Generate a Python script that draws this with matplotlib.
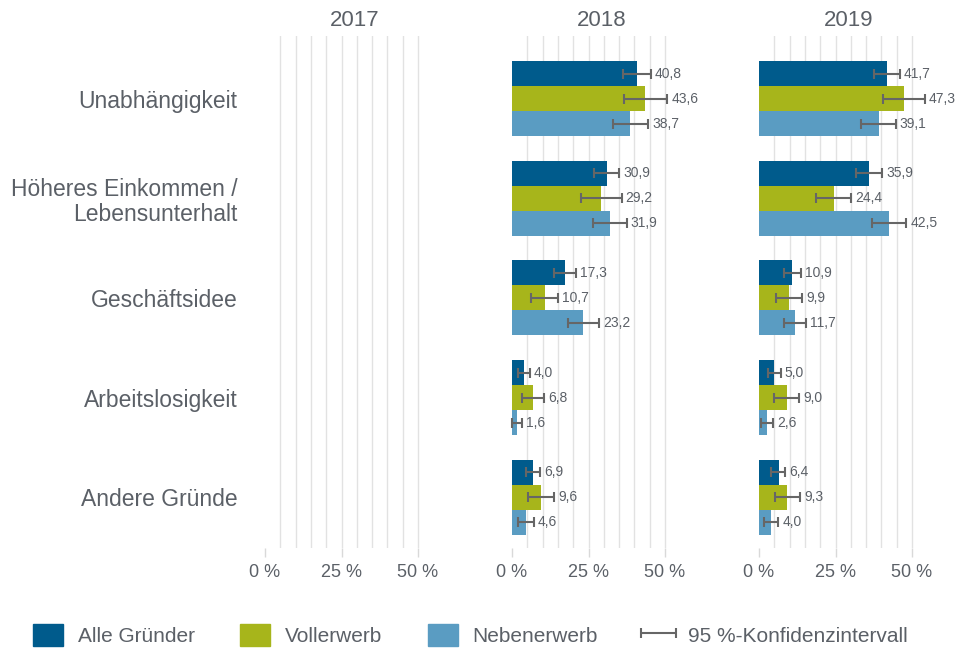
import numpy as np
import matplotlib
matplotlib.use("Agg")
import matplotlib.pyplot as plt
from matplotlib.patches import Patch
from matplotlib.container import ErrorbarContainer
from matplotlib.legend_handler import HandlerErrorbar

plt.rcParams['font.family'] = ['Liberation Sans', 'DejaVu Sans']

GREY = '#5b6067'
COLORS = ['#005b8c', '#a7b51b', '#5a9cc2']
SERIES = ['Alle Gründer', 'Vollerwerb', 'Nebenerwerb']
YEARS = ['2017', '2018', '2019']
CATEGORIES = ['Unabhängigkeit', 'Höheres Einkommen /\nLebensunterhalt', 'Geschäftsidee',
              'Arbeitslosigkeit', 'Andere Gründe']

# values per year: rows = categories, cols = series (Alle, Voll, Neben); 2017 has no data
values_2018 = [[40.8, 43.6, 38.7], [30.9, 29.2, 31.9], [17.3, 10.7, 23.2], [4.0, 6.8, 1.6], [6.9, 9.6, 4.6]]
lower_2018 = [[36.4, 36.6, 32.9], [26.8, 22.5, 26.4], [13.8, 6.2, 18.2], [2.1, 3.2, 0.0], [4.6, 5.3, 2.1]]
upper_2018 = [[45.3, 50.8, 44.6], [35.0, 35.8, 37.5], [20.8, 15.1, 28.4], [5.8, 10.6, 3.2], [9.3, 13.8, 7.1]]

values_2019 = [[41.7, 47.3, 39.1], [35.9, 24.4, 42.5], [10.9, 9.9, 11.7], [5.0, 9.0, 2.6], [6.4, 9.3, 4.0]]
lower_2019 = [[37.5, 40.5, 33.4], [31.7, 18.5, 36.9], [8.2, 5.7, 8.1], [2.8, 4.9, 0.5], [4.0, 5.1, 1.5]]
upper_2019 = [[46.0, 54.2, 44.7], [40.2, 30.2, 48.1], [13.6, 14.1, 15.4], [7.1, 13.1, 4.6], [8.6, 13.4, 6.3]]

DATA = {'2017': None,
        '2018': (values_2018, lower_2018, upper_2018),
        '2019': (values_2019, lower_2019, upper_2019)}

W, H = 957, 651
fig = plt.figure(figsize=(W / 100, H / 100), dpi=100)

bar_h = 0.251
offsets = [-bar_h, 0, bar_h]
y = np.arange(len(CATEGORIES))
err_handle = None

# panel is 180 px wide, 0-50 % covers 153 px of it
panel_px = 180
xmax = 50 * panel_px / 153

for i, year in enumerate(YEARS):
    left = 265 + i * 247
    ax = fig.add_axes([left / W, (H - 548) / H, panel_px / W, 512 / H])
    ax.set_xlim(0, xmax)
    ax.set_ylim(4.51, -0.63)
    for s in ax.spines.values():
        s.set_visible(False)
    for g in range(5, 55, 5):
        ax.axvline(g, color='#e2e2e2', lw=1, zorder=0)
    ax.set_xticks([0, 25, 50])
    ax.set_xticklabels(['0 %', '25 %', '50 %'])
    ax.tick_params(axis='x', length=6.5, width=1, color='#d9d9d9', labelsize=13, labelcolor=GREY, pad=5)
    ax.set_title(year, fontsize=16, color=GREY, pad=7)
    if i == 0:
        ax.set_yticks(y)
        ax.set_yticklabels(CATEGORIES, fontsize=16.5, color=GREY, linespacing=1.1)
        ax.tick_params(axis='y', length=0, pad=20)
    else:
        ax.set_yticks([])

    if DATA[year] is None:
        continue
    vals, lo, hi = (np.array(a) for a in DATA[year])
    for k in range(3):
        yy = y + offsets[k]
        ax.barh(yy, vals[:, k], height=bar_h, color=COLORS[k], zorder=2)
        eb = ax.errorbar(vals[:, k], yy, xerr=[vals[:, k] - lo[:, k], hi[:, k] - vals[:, k]],
                         fmt='none', ecolor='#666666', elinewidth=1.5, capsize=3.8, capthick=1.5, zorder=3)
        for part in eb.get_children():
            part.set_clip_on(False)
        err_handle = eb
        for v, h, yv in zip(vals[:, k], hi[:, k], yy):
            ax.text(h + 1.3, yv, f'{v:.1f}'.replace('.', ','), va='center', ha='left',
                    fontsize=10, color=GREY, clip_on=False)

handles = [Patch(color=c) for c in COLORS] + [err_handle]
labels = SERIES + ['95 %-Konfidenzintervall']
fig.legend(handles, labels, loc='center left', bbox_to_anchor=(33 / W, 1 - 635 / H), ncol=4,
           frameon=False, fontsize=15, labelcolor=GREY, handlelength=1.44, handleheight=1.3,
           handletextpad=0.72, columnspacing=2.17, borderpad=0, borderaxespad=0,
           handler_map={ErrorbarContainer: HandlerErrorbar(xerr_size=0.85)})

fig.savefig('out.png', dpi=100)
